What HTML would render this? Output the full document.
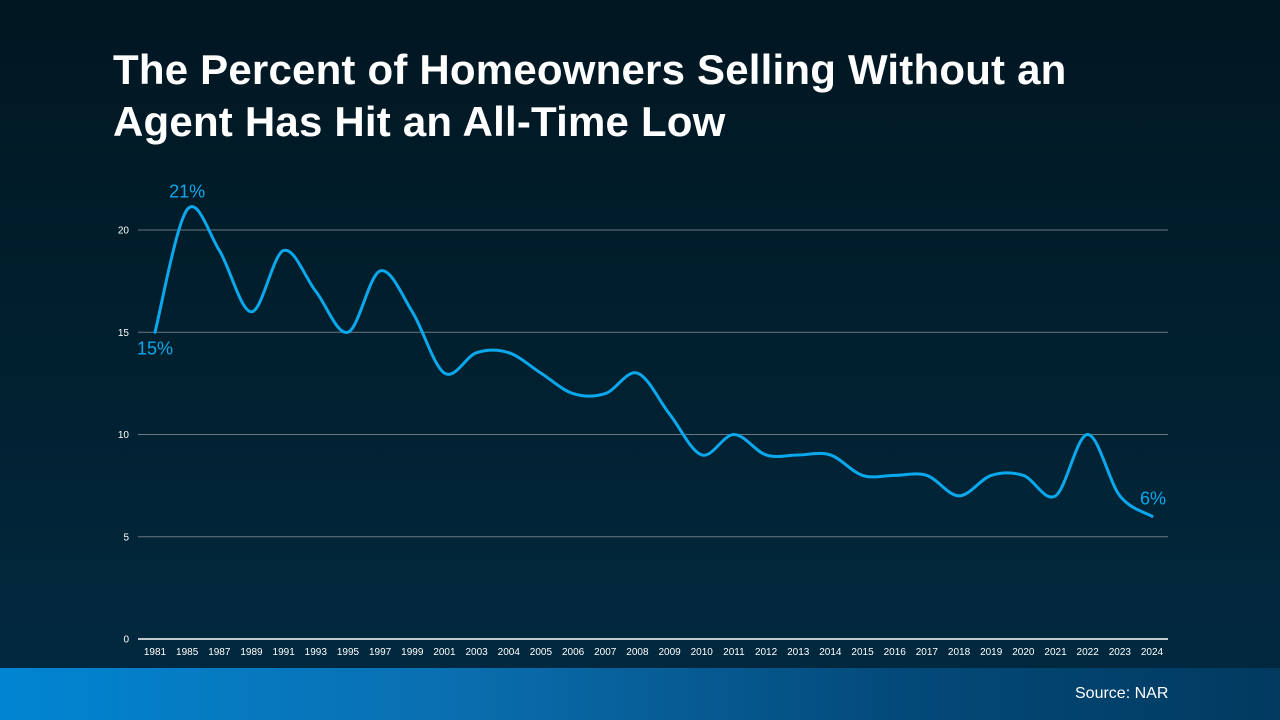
<!DOCTYPE html>
<html><head><meta charset="utf-8"><style>
html,body{margin:0;padding:0;width:1280px;height:720px;overflow:hidden;font-family:"Liberation Sans",sans-serif}
#bg{position:absolute;left:0;top:0;width:1280px;height:720px;background:linear-gradient(180deg,#011722 0%,#01202f 50%,#022a42 100%)}
#band{position:absolute;left:0;top:668px;width:1280px;height:52px;background:linear-gradient(90deg,#0185d2 0%,#0a6fb0 35%,#034a7a 70%,#023a60 100%)}
h1{position:absolute;left:113px;top:44px;margin:0;color:#fff;font-size:42px;font-weight:bold;line-height:52px;letter-spacing:0.2px}
#src{position:absolute;left:1075px;top:685px;color:#fff;font-size:16px}
svg{position:absolute;left:0;top:0}
</style></head><body>
<div id="bg"></div>
<div id="band"></div>
<h1>The Percent of Homeowners Selling Without an<br>Agent Has Hit an All-Time Low</h1>
<div id="src">Source: NAR</div>
<svg id="chart" width="1280" height="720"></svg>
<script>
const categories=["1981","1985","1987","1989","1991","1993","1995","1997","1999","2001","2003","2004","2005","2006","2007","2008","2009","2010","2011","2012","2013","2014","2015","2016","2017","2018","2019","2020","2021","2022","2023","2024"];
const values=[15,21,19,16,19,17,15,18,16,13,14,14,13,12,12,13,11,9,10,9,9,9,8,8,8,7,8,8,7,10,7,6];
const yTicks=[0,5,10,15,20];
const NS="http://www.w3.org/2000/svg";
const svg=document.getElementById('chart');
const x0=155,x1=1152,yBase=639,yPer=20.45,left=138,right=1168;
const xs=i=>x0+i*(x1-x0)/(categories.length-1);
const ys=v=>yBase-v*yPer;
function mk(t,a){const e=document.createElementNS(NS,t);for(const k in a)e.setAttribute(k,a[k]);svg.appendChild(e);return e;}
yTicks.forEach(v=>{
  const l=mk('line',{x1:left,x2:right,y1:ys(v),y2:ys(v),stroke:v===0?'#ffffff':'#6b7880','stroke-width':v===0?1.5:1});
  
  
  const t=mk('text',{x:129,y:ys(v)+3.5,fill:'#fff','font-size':10,'text-anchor':'end'});
  t.textContent=v;
  
  
});
categories.forEach((c,i)=>{
  const t=mk('text',{x:xs(i),y:655,fill:'#fff','font-size':10,'text-anchor':'middle'});
  t.textContent=c;
  
  
});
const pts=values.map((v,i)=>[xs(i),ys(v)]);
let d='M'+pts[0][0]+','+pts[0][1];
for(let i=0;i<pts.length-1;i++){
  const p0=pts[Math.max(0,i-1)],p1=pts[i],p2=pts[i+1],p3=pts[Math.min(pts.length-1,i+2)];
  const c1=[p1[0]+(p2[0]-p0[0])/6,p1[1]+(p2[1]-p0[1])/6];
  const c2=[p2[0]-(p3[0]-p1[0])/6,p2[1]-(p3[1]-p1[1])/6];
  d+=' C'+c1+' '+c2+' '+p2;
}
const path=mk('path',{d:d,fill:'none',stroke:'#0aa8ec','stroke-width':3,'stroke-linejoin':'round','stroke-linecap':'round'});


const labels=[[0,0,22],[1,0,-12],[categories.length-1,1,-12]];
labels.forEach(([i,dx,dy])=>{
  const t=mk('text',{x:xs(i)+dx,y:ys(values[i])+dy,fill:'#0aa8ec','font-size':18,'text-anchor':'middle'});
  t.textContent=values[i]+'%';
  
  
});
</script>
</body></html>
